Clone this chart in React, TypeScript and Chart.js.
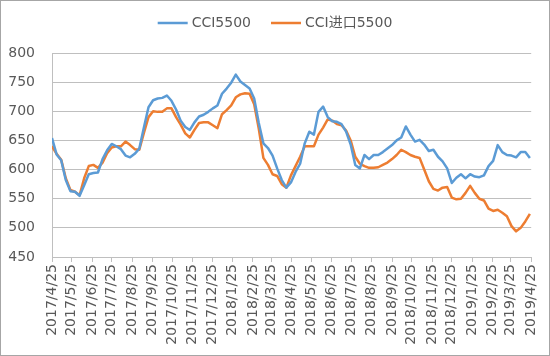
import React, { useEffect, useRef } from "react";
import { Chart, registerables } from "chart.js";

Chart.register(...registerables);

// ---- data ----
const startDate = "2017/4/25";
const stepDays = 7; // weekly readings
const tickLabels = [
  "2017/4/25", "2017/5/25", "2017/6/25", "2017/7/25", "2017/8/25", "2017/9/25",
  "2017/10/25", "2017/11/25", "2017/12/25", "2018/1/25", "2018/2/25", "2018/3/25",
  "2018/4/25", "2018/5/25", "2018/6/25", "2018/7/25", "2018/8/25", "2018/9/25",
  "2018/10/25", "2018/11/25", "2018/12/25", "2019/1/25", "2019/2/25", "2019/3/25",
  "2019/4/25",
];
const seriesNames = ["CCI5500", "CCI进口5500"];
const cci5500 = [
  654, 626, 616, 582, 563, 562, 555, 573, 592, 594,
  595, 618, 633, 644, 640, 635, 624, 621, 627, 636,
  672, 707, 719, 722, 723, 727, 718, 703, 684, 673,
  668, 681, 691, 694, 699, 705, 710, 730, 739, 749,
  763, 751, 745, 739, 722, 680, 645, 637, 624, 602,
  582, 569, 578, 596, 610, 645, 665, 660, 699, 708,
  690, 683, 682, 678, 665, 643, 608, 602, 625, 618,
  625, 625, 630, 636, 642, 650, 655, 674, 660, 648,
  651, 643, 632, 634, 622, 614, 602, 577, 586, 592,
  585, 592, 588, 587, 590, 606, 615, 642, 630, 625,
  624, 621, 630, 630, 620,
];
const cciImport5500 = [
  640, 627, 617, 585, 565, 562, 556, 585, 606, 608,
  603, 612, 628, 638, 640, 640, 648, 642, 635, 634,
  663, 690, 700, 699, 699, 705, 705, 690, 677, 662,
  655, 668, 680, 681, 681, 676, 671, 695, 702, 710,
  724, 729, 731, 730, 712, 670, 620, 608, 592, 589,
  575, 569, 590, 606, 622, 640, 640, 640, 660, 672,
  686, 684, 678, 676, 667, 650, 622, 610, 606, 603,
  603, 604, 608, 612, 618, 625, 634, 630, 625, 622,
  620, 600, 580, 567, 564, 569, 570, 552, 549, 550,
  560, 572, 560, 550, 547, 533, 529, 531, 526, 520,
  503, 494, 500, 511, 524,
];
const yMin = 450;
const yMax = 800;
const yStep = 50;

// ---- helpers ----
function toUTC(s: string) {
  const [y, m, d] = s.split("/").map(Number);
  return Date.UTC(y, m - 1, d);
}
function dayOffset(s: string) {
  return Math.round((toUTC(s) - toUTC(startDate)) / 86400000);
}
const tickDays = tickLabels.map(dayOffset);

const FONT = "'DejaVu Sans', 'Noto Sans CJK SC', sans-serif";
const TEXT = "#595959";
const GRID = "#bfbfbf";
const COLORS = ["#5B9BD5", "#ED7D31"];

const legendPlugin = {
  id: "excelLegend",
  afterDraw(chart: any) {
    const ctx = chart.ctx as CanvasRenderingContext2D;
    ctx.save();
    ctx.font = `14px ${FONT}`;
    const items = chart.data.datasets.map((ds: any) => ({
      text: ds.label as string,
      color: ds.borderColor as string,
      w: ctx.measureText(ds.label).width,
    }));
    const lineLen = 30, gap = 4, itemGap = 20;
    const total =
      items.reduce((a: number, it: any) => a + lineLen + gap + it.w, 0) +
      itemGap * (items.length - 1);
    let x = (chart.width - total) / 2;
    const y = 23;
    items.forEach((it: any) => {
      ctx.strokeStyle = it.color;
      ctx.lineWidth = 2.5;
      ctx.beginPath();
      ctx.moveTo(x, y);
      ctx.lineTo(x + lineLen, y);
      ctx.stroke();
      x += lineLen + gap;
      ctx.fillStyle = TEXT;
      ctx.textBaseline = "middle";
      ctx.textAlign = "left";
      ctx.fillText(it.text, x, y);
      x += it.w + itemGap;
    });
    ctx.strokeStyle = "#a6a6a6";
    ctx.lineWidth = 1;
    ctx.strokeRect(0.5, 0.5, chart.width - 1, chart.height - 1);
    ctx.restore();
  },
};

export default function App() {
  const ref = useRef<HTMLCanvasElement | null>(null);
  useEffect(() => {
    document.body.style.margin = "0";
    if (!ref.current) return;
    const mk = (vals: number[]) => vals.map((v, i) => ({ x: i * stepDays, y: v }));
    const chart = new Chart(ref.current, {
      type: "line",
      data: {
        datasets: [
          {
            label: seriesNames[0],
            data: mk(cci5500),
            borderColor: COLORS[0],
            backgroundColor: COLORS[0],
            borderWidth: 2.5,
            pointRadius: 0,
            tension: 0,
            borderJoinStyle: "round",
          },
          {
            label: seriesNames[1],
            data: mk(cciImport5500),
            borderColor: COLORS[1],
            backgroundColor: COLORS[1],
            borderWidth: 2.5,
            pointRadius: 0,
            tension: 0,
            borderJoinStyle: "round",
          },
        ],
      },
      options: {
        responsive: false,
        animation: false,
        events: [],
        layout: { padding: { left: 0, right: 18, top: 53, bottom: 0 } },
        plugins: { legend: { display: false }, tooltip: { enabled: false } },
        scales: {
          x: {
            type: "linear",
            min: 0,
            max: tickDays[tickDays.length - 1],
            afterBuildTicks: (s: any) => {
              s.ticks = tickDays.map((v) => ({ value: v }));
            },
            afterFit: (s: any) => {
              s.height = 99;
            },
            ticks: {
              autoSkip: false,
              minRotation: 90,
              maxRotation: 90,
              padding: 2,
              color: TEXT,
              font: { family: FONT, size: 14 },
              callback: (_v: any, i: number) => tickLabels[i],
            },
            grid: { drawOnChartArea: false, drawTicks: true, tickLength: 5, color: GRID },
            border: { display: true, color: GRID },
          },
          y: {
            min: yMin,
            max: yMax,
            afterFit: (s: any) => {
              s.width = 52;
            },
            ticks: {
              stepSize: yStep,
              padding: 17,
              color: TEXT,
              font: { family: FONT, size: 14 },
            },
            grid: { color: GRID, drawTicks: false },
            border: { display: true, color: GRID },
          },
        },
      },
      plugins: [legendPlugin],
    });
    return () => chart.destroy();
  }, []);
  return (
    <div style={{ width: 550, height: 356 }}>
      <canvas ref={ref} width={550} height={356} style={{ display: "block" }} />
    </div>
  );
}
